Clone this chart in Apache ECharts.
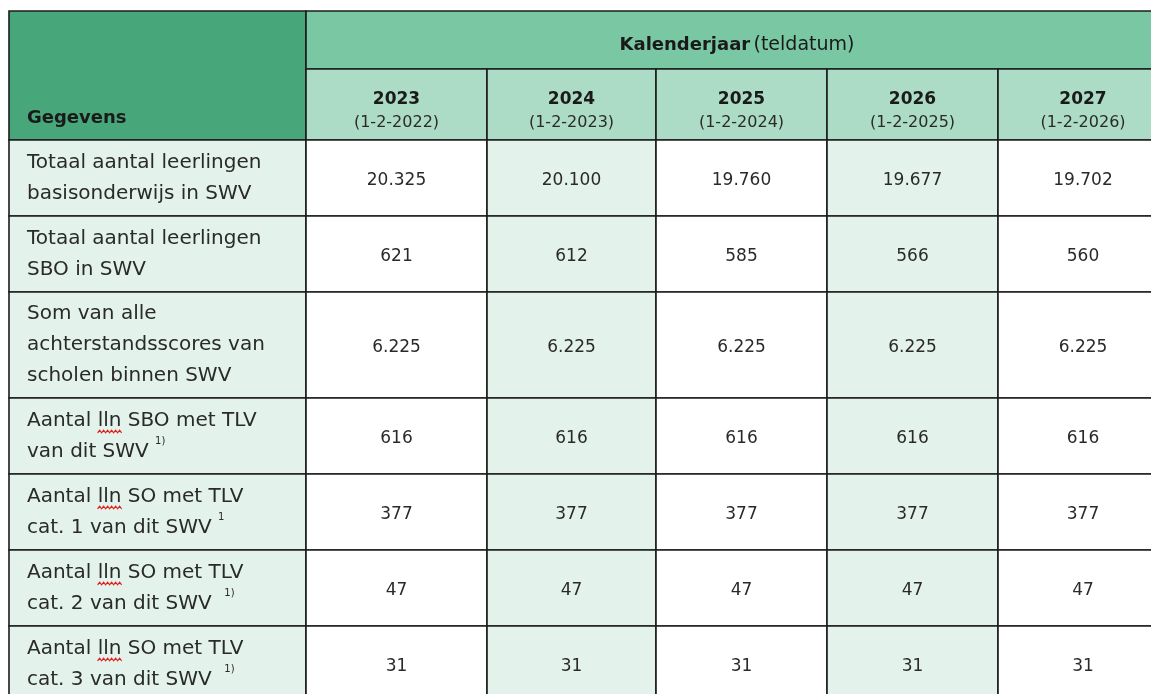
<!DOCTYPE html>
<html>
<head>
<meta charset="utf-8">
<title>Kalenderjaar (teldatum)</title>
<script src="https://cdn.jsdelivr.net/npm/echarts@6/dist/echarts.min.js"></script>
<style>
html, body { margin: 0; padding: 0; background: #fff; }
#chart { width: 1151px; height: 694px; }
</style>
</head>
<body>
<div id="chart"></div>
<script>
// kolommen
const years = ['2023', '2024', '2025', '2026', '2027'];
const countDates = ['(1-2-2022)', '(1-2-2023)', '(1-2-2024)', '(1-2-2025)', '(1-2-2026)'];

// rijlabels per regel, {sup|..} is de voetnoot
const rowLabels = [
  ['Totaal aantal leerlingen', 'basisonderwijs in SWV'],
  ['Totaal aantal leerlingen', 'SBO in SWV'],
  ['Som van alle', 'achterstandsscores van', 'scholen binnen SWV'],
  ['Aantal lln SBO met TLV', 'van dit SWV {sup|1)}'],
  ['Aantal lln SO met TLV', 'cat. 1 van dit SWV {sup|1}'],
  ['Aantal lln SO met TLV', 'cat. 2 van dit SWV  {sup|1)}'],
  ['Aantal lln SO met TLV', 'cat. 3 van dit SWV  {sup|1)}']
];

const totaalBasis = [20325, 20100, 19760, 19677, 19702];
const totaalSBO = [621, 612, 585, 566, 560];
const somScores = [6225, 6225, 6225, 6225, 6225];
const sboTlv = [616, 616, 616, 616, 616];
const soCat1 = [377, 377, 377, 377, 377];
const soCat2 = [47, 47, 47, 47, 47];
const soCat3 = [31, 31, 31, 31, 31];
const rowValues = [totaalBasis, totaalSBO, somScores, sboTlv, soCat1, soCat2, soCat3];

// opmaak (de tabel loopt rechts en onder buiten beeld door)
const colW = [297, 181, 169, 171, 171, 170];
const headH = [58, 71];
const lineH = 30, rowPad = 16, textLH = 31;
const FONT = 'DejaVu Sans';
const BORDER = '#1c1c1c';
const C_DARK = '#47a67a', C_MID = '#7ac7a3', C_LIGHT = '#addcc6', C_MINT = '#e3f2ea';
const LEFT = 9, TOP = 11, W = 1151, H = 694;

const colX = [0];
colW.forEach(w => colX.push(colX[colX.length - 1] + w));
const rowY = [0, headH[0], headH[0] + headH[1]];
rowLabels.forEach(l => rowY.push(rowY[rowY.length - 1] + rowPad + lineH * l.length));

function fmt(v) {
  return String(v).replace(/\B(?=(\d{3})+(?!\d))/g, '.');
}

const measureCtx = document.createElement('canvas').getContext('2d');
function textW(s, size) {
  measureCtx.font = size + 'px "' + FONT + '"';
  return measureCtx.measureText(s).width;
}

function cellRect(api, c0, c1, r0, r1) {
  const p0 = api.coord([colX[c0], rowY[r0]]);
  const p1 = api.coord([colX[c1], rowY[r1]]);
  return { x: p0[0], y: p0[1], width: p1[0] - p0[0], height: p1[1] - p0[1] };
}

// header: [col0, col1, row0, row1, soort]
const headerCells = [[0, 1, 0, 2, 'g'], [1, 6, 0, 1, 'k']];
years.forEach((y, i) => headerCells.push([i + 1, i + 2, 1, 2, i]));

function renderHeader(params, api) {
  const d = headerCells[params.dataIndex];
  const r = cellRect(api, d[0], d[1], d[2], d[3]);
  const kids = [];
  let fill = C_LIGHT;
  if (d[4] === 'g') fill = C_DARK;
  else if (d[4] === 'k') fill = C_MID;
  kids.push({ type: 'rect', shape: r, style: { fill: fill, stroke: BORDER, lineWidth: 1.6 } });
  if (d[4] === 'g') {
    kids.push({ type: 'text', style: {
      text: 'Gegevens', x: r.x + 18, y: r.y + r.height - 22,
      align: 'left', verticalAlign: 'middle',
      fontFamily: FONT, fontSize: 18, fontWeight: 'bold', fill: '#1a1a1a'
    } });
  } else if (d[4] === 'k') {
    kids.push({ type: 'text', style: {
      text: '{b|Kalenderjaar} {n|(teldatum)}', x: r.x + r.width / 2, y: r.y + r.height / 2 + 5,
      align: 'center', verticalAlign: 'middle',
      rich: {
        b: { fontFamily: FONT, fontSize: 18, fontWeight: 'bold', fill: '#1a1a1a' },
        n: { fontFamily: FONT, fontSize: 19, fill: '#1a1a1a' }
      }
    } });
  } else {
    const i = d[4];
    kids.push({ type: 'text', style: {
      text: '{y|' + years[i] + '}\n{d|' + countDates[i] + '}', x: r.x + r.width / 2, y: r.y + r.height / 2 + 7,
      align: 'center', verticalAlign: 'middle',
      rich: {
        y: { fontFamily: FONT, fontSize: 17, fontWeight: 'bold', fill: '#1a1a1a', lineHeight: 23 },
        d: { fontFamily: FONT, fontSize: 16, fill: '#2a2a2a', lineHeight: 23 }
      }
    } });
  }
  return { type: 'group', children: kids };
}

// body: [kolom, rij]
const bodyCells = [];
rowLabels.forEach((l, r) => {
  for (let c = 0; c <= years.length; c++) bodyCells.push([c, r]);
});

function renderBody(params, api) {
  const c = api.value(0), row = api.value(1);
  const r = cellRect(api, c, c + 1, row + 2, row + 3);
  const kids = [];
  const fill = (c === 0 || c % 2 === 0) ? C_MINT : '#ffffff';
  kids.push({ type: 'rect', shape: r, style: { fill: fill, stroke: BORDER, lineWidth: 1.6 } });
  if (c === 0) {
    const lines = rowLabels[row];
    const cy = r.y + r.height / 2;
    kids.push({ type: 'text', style: {
      text: lines.join('\n'), x: r.x + 18, y: cy,
      align: 'left', verticalAlign: 'middle',
      fontFamily: FONT, fontSize: 20, lineHeight: textLH, fill: '#2a2a2a',
      rich: {
        sup: { fontFamily: FONT, fontSize: 10, fill: '#2a2a2a', verticalAlign: 'top', lineHeight: textLH, padding: [0, 0, 10, 0] }
      }
    } });
    // rode kringel van de spellingcontrole onder "lln"
    if (lines[0].indexOf(' lln ') > 0) {
      const x0 = r.x + 18 + textW('Aantal ', 20);
      const w = textW('lln', 20);
      const yb = cy - textLH * lines.length / 2 + textLH / 2 + 11;
      const pts = [];
      for (let k = 0; k <= Math.round(w / 2); k++) pts.push([x0 + k * 2, yb + (k % 2 ? -1.3 : 1.3)]);
      kids.push({ type: 'polyline', shape: { points: pts }, style: { stroke: '#e02020', lineWidth: 1.2, fill: null } });
    }
  } else {
    kids.push({ type: 'text', style: {
      text: fmt(rowValues[row][c - 1]), x: r.x + r.width / 2, y: r.y + r.height / 2 + 3,
      align: 'center', verticalAlign: 'middle',
      fontFamily: FONT, fontSize: 17, fill: '#2a2a2a'
    } });
  }
  return { type: 'group', children: kids };
}

const chart = echarts.init(document.getElementById('chart'));
chart.setOption({
  animation: false,
  grid: { left: LEFT, right: 0, top: TOP, bottom: 0 },
  // zichtbaar venster in tabel-eenheden (1 eenheid = 1 px)
  xAxis: { type: 'value', min: 0, max: W - LEFT, show: false },
  yAxis: { type: 'value', min: 0, max: H - TOP, inverse: true, show: false },
  series: [
    { type: 'custom', renderItem: renderHeader, data: headerCells.map((d, i) => [i]), clip: false, silent: true },
    { type: 'custom', renderItem: renderBody, data: bodyCells, encode: { x: 0, y: 1 }, clip: false, silent: true }
  ]
});
</script>
</body>
</html>
